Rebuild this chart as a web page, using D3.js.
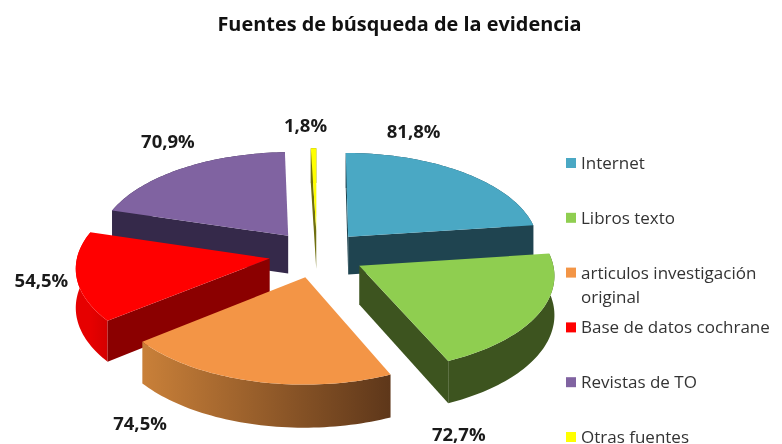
<!DOCTYPE html>
<html>
<head>
<meta charset="utf-8">
<script src="https://cdnjs.cloudflare.com/ajax/libs/d3/7.8.5/d3.min.js"></script>
<style>
    html, body { margin: 0; padding: 0; background: #fff; }
    svg { display: block; filter: blur(0.55px); }
    text { font-family: "Open Sans", sans-serif; }
</style>
</head>
<body>
<div id="chart"></div>
<script>
    // Data
    const title = "Fuentes de búsqueda de la evidencia";
    const categories = ["Internet", "Libros texto", "articulos investigación original",
        "Base de datos cochrane", "Revistas de TO", "Otras fuentes"];
    const values = [81.8, 72.7, 74.5, 54.5, 70.9, 1.8];

    // Colours
    const topColors = ["#4aa8c4", "#8fce50", "#f39546", "#ff0000", "#8063a1", "#ffff00"];
    const cutColors = ["#1f4450", "#3d541f", "#5e371a", "#8b0000", "#35294a", "#6f6f10"];
    const wallFrom = ["#1f4450", "#3d541f", "#c98039", "#e60000", "#35294a", "#6f6f10"];
    const wallTo = ["#1f4450", "#3d541f", "#5e371a", "#d40000", "#35294a", "#6f6f10"];

    // Hand-placed data labels: offset from the middle of each slice's rim
    const labelNudge = [[-50, -41], [-79, 120], [-113, 42], [-35, 4], [-14, -27], [-8, -23]];

    const width = 782, height = 444;

    // Pie geometry, ground plane units, seen in perspective
    const cx = 317, cy = 254;
    const radius = 192, explode = 48, thickness = 38.5;
    const tilt = 0.4885, persp = 0.00045;

    const svg = d3.select("#chart")
        .append("svg")
        .attr("width", width)
        .attr("height", height);

    const defs = svg.append("defs");

    const pie = d3.pie().sort(null).value(d => d);
    const slices = pie(values).map(function (d, i) {
        const mid = (d.startAngle + d.endAngle) / 2;
        return {
            i: i,
            start: d.startAngle,
            end: d.endAngle,
            mid: mid,
            ox: explode * Math.sin(mid),
            oz: -explode * Math.cos(mid)
        };
    });

    // u to the right, v towards the viewer, h down from the top face
    function project(u, v, h) {
        const s = 1 / (1 - persp * v);
        return [cx + u * s, cy + tilt * v * s + h * s];
    }

    function rimPoint(d, a, h) {
        return project(d.ox + radius * Math.sin(a), d.oz - radius * Math.cos(a), h);
    }

    function apex(d, h) {
        return project(d.ox, d.oz, h);
    }

    function rimPoints(d, h) {
        const n = Math.max(4, Math.ceil((d.end - d.start) * 40));
        return d3.range(n + 1).map(k => rimPoint(d, d.start + (d.end - d.start) * k / n, h));
    }

    const line = d3.line();

    // Back to front, so the nearer slices cover the farther ones
    const ordered = slices.slice().sort((a, b) => d3.ascending(a.oz, b.oz));

    const groups = svg.selectAll(".slice")
        .data(ordered)
        .join("g")
        .attr("class", "slice");

    // Outer wall
    groups.each(function (d) {
        const p0 = rimPoint(d, d.start, 0), p1 = rimPoint(d, d.end, 0);
        const grad = defs.append("linearGradient")
            .attr("id", "wall" + d.i)
            .attr("gradientUnits", "userSpaceOnUse")
            .attr("x1", Math.min(p0[0], p1[0])).attr("x2", Math.max(p0[0], p1[0]))
            .attr("y1", 0).attr("y2", 0);
        grad.append("stop").attr("offset", 0).attr("stop-color", wallFrom[d.i]);
        grad.append("stop").attr("offset", 1).attr("stop-color", wallTo[d.i]);
    });

    groups.append("path")
        .attr("fill", d => `url(#wall${d.i})`)
        .attr("d", d => line(rimPoints(d, 0).concat(rimPoints(d, thickness).reverse())) + "Z");

    // Cut faces, only the ones turned to the viewer
    groups.filter(d => Math.sin(d.start) <= 0.001)
        .append("path")
        .attr("fill", d => cutColors[d.i])
        .attr("d", d => line([apex(d, 0), rimPoint(d, d.start, 0), rimPoint(d, d.start, thickness), apex(d, thickness)]) + "Z");

    groups.filter(d => Math.sin(d.end) > 0)
        .append("path")
        .attr("fill", d => cutColors[d.i])
        .attr("d", d => line([apex(d, 0), rimPoint(d, d.end, 0), rimPoint(d, d.end, thickness), apex(d, thickness)]) + "Z");

    // Top face
    groups.append("path")
        .attr("fill", d => topColors[d.i])
        .attr("d", d => line([apex(d, 0)].concat(rimPoints(d, 0))) + "Z");

    // Data labels
    const pct = d => d.toFixed(1).replace(".", ",") + "%";

    svg.selectAll(".value")
        .data(slices)
        .join("text")
        .attr("class", "value")
        .attr("x", d => rimPoint(d, d.mid, 0)[0] + labelNudge[d.i][0])
        .attr("y", d => rimPoint(d, d.mid, 0)[1] + labelNudge[d.i][1])
        .attr("dy", "0.35em")
        .attr("text-anchor", "middle")
        .attr("font-size", 18.5)
        .attr("font-weight", 700)
        .attr("fill", "#1a1a1a")
        .text(d => pct(values[d.i]));

    // Title
    svg.append("text")
        .attr("x", 399.5)
        .attr("y", 31)
        .attr("text-anchor", "middle")
        .attr("font-size", 19.9)
        .attr("font-weight", 700)
        .attr("fill", "#111")
        .text(title);

    // Legend
    const legendY = d3.scalePoint()
        .domain(categories)
        .range([163, 437]);

    const legend = svg.selectAll(".legend")
        .data(categories)
        .join("g")
        .attr("class", "legend")
        .attr("transform", d => `translate(566,${legendY(d)})`);

    legend.append("rect")
        .attr("y", -5)
        .attr("width", 10)
        .attr("height", 10)
        .attr("fill", (d, i) => topColors[i]);

    legend.each(function (d) {
        // the long entry wraps onto a second line
        const words = d.split(" ");
        const rows = d.length > 24 ? [words.slice(0, -1).join(" "), words[words.length - 1]] : [d];
        const t = d3.select(this).append("text")
            .attr("font-size", 17)
            .attr("fill", "#333");
        t.selectAll("tspan")
            .data(rows)
            .join("tspan")
            .attr("x", 15)
            .attr("y", (r, k) => k * 24)
            .attr("dy", "0.35em")
            .text(r => r);
    });
</script>
</body>
</html>
